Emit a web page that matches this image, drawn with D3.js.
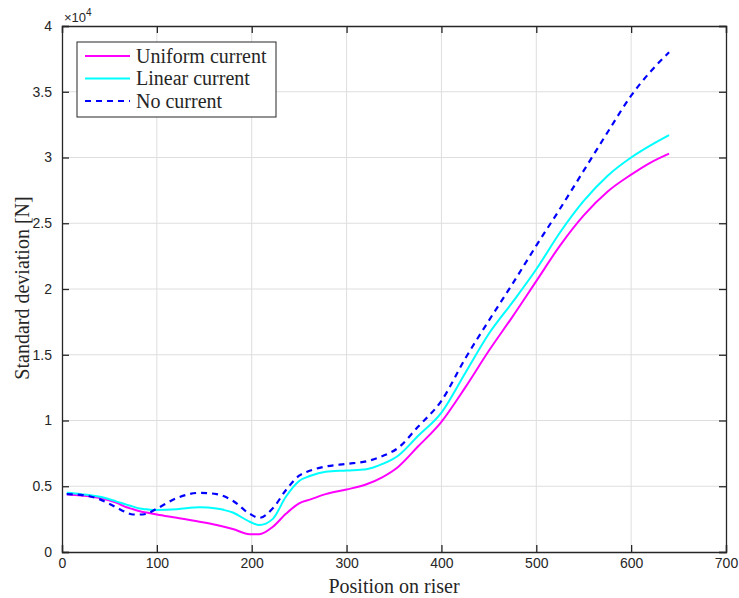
<!DOCTYPE html>
<html>
<head>
<meta charset="utf-8">
<script src="https://cdn.jsdelivr.net/npm/d3@7"></script>
<style>
  body { margin: 0; background: #fff; }
  .tick text { font-family: "Liberation Sans", Arial, sans-serif; font-size: 14px; fill: #262626; }
  .lbl { font-family: "Liberation Serif", "Times New Roman", serif; font-size: 20px; fill: #262626; }
</style>
</head>
<body>
<div class="chart"></div>
<script>
var w = 739;
var h = 598;
var paddingTop = 26;
var paddingBottom = 46;
var paddingLeft = 62;
var paddingRight = 13;

// position on riser (shared by the three series)
var position = [5, 20, 40, 57, 68, 75, 82, 89, 100, 121, 145, 163, 180, 198, 208, 222, 236, 250,
                262, 278, 300, 321, 338, 354, 375, 400, 425, 450, 475, 500, 525, 550, 575, 600, 620, 640];

// standard deviation [N]
var uniformCurrent = [4400, 4300, 4100, 3750, 3400, 3250, 3100, 3000, 2850, 2600, 2300, 2050, 1750, 1350, 1350, 1900, 2900, 3700,
                      4000, 4400, 4750, 5150, 5700, 6450, 8000, 9900, 12500, 15300, 17900, 20600, 23300, 25600, 27400, 28700, 29600, 30300];
var linearCurrent = [4500, 4400, 4200, 3850, 3600, 3450, 3300, 3250, 3200, 3250, 3400, 3300, 3000, 2300, 2050, 2500, 4200, 5400,
                     5800, 6100, 6200, 6300, 6700, 7300, 8800, 10600, 13600, 16600, 19000, 21500, 24300, 26700, 28600, 30000, 30900, 31700];
var noCurrent = [4400, 4350, 4000, 3400, 3000, 2850, 2850, 2900, 3300, 4100, 4500, 4400, 3900, 2900, 2600, 3300, 4700, 5800,
                 6200, 6500, 6700, 6900, 7300, 7900, 9500, 11500, 14700, 17600, 20400, 23300, 26100, 29000, 31900, 34700, 36500, 38000];

var seriesNames = ["Uniform current", "Linear current", "No current"];
var seriesColors = ["#ff00ff", "#00ffff", "#0000ff"];
var seriesDash = [null, null, "6,5"];
var seriesValues = [uniformCurrent, linearCurrent, noCurrent];

var xTicks = [0, 100, 200, 300, 400, 500, 600, 700];
var yTicks = [0, 5000, 10000, 15000, 20000, 25000, 30000, 35000, 40000];

var xScale = d3.scaleLinear().domain([0, 700]).range([paddingLeft, w - paddingRight]);
var yScale = d3.scaleLinear().domain([0, 40000]).range([h - paddingBottom, paddingTop]);

var svg = d3.select(".chart").append("svg")
            .attr("width", w)
            .attr("height", h);

// Gridlines
svg.selectAll(".xGrid")
   .data(xTicks.slice(1, -1))
   .enter()
   .append("line")
   .attr("x1", function(d) { return xScale(d); })
   .attr("x2", function(d) { return xScale(d); })
   .attr("y1", paddingTop)
   .attr("y2", h - paddingBottom)
   .style("stroke", "#dedede")
   .style("stroke-width", 1);

svg.selectAll(".yGrid")
   .data(yTicks.slice(1, -1))
   .enter()
   .append("line")
   .attr("x1", paddingLeft)
   .attr("x2", w - paddingRight)
   .attr("y1", function(d) { return yScale(d); })
   .attr("y2", function(d) { return yScale(d); })
   .style("stroke", "#dedede")
   .style("stroke-width", 1);

// Data lines
var line = d3.line()
             .x(function(d) { return xScale(d[0]); })
             .y(function(d) { return yScale(d[1]); })
             .curve(d3.curveMonotoneX);

seriesValues.forEach(function(vals, i) {
  var data = position.map(function(p, j) { return [p, vals[j]]; });
  svg.append("path")
     .datum(data)
     .attr("d", line)
     .style("fill", "none")
     .style("stroke", seriesColors[i])
     .style("stroke-width", i == 2 ? 2.2 : 2)
     .style("stroke-dasharray", seriesDash[i]);
});

// Axes (ticks inside, box)
var tickFmt = function(d) { return d / 10000; };

var xAxis = d3.axisBottom(xScale).tickValues(xTicks).tickSize(-7).tickPadding(6);
var yAxis = d3.axisLeft(yScale).tickValues(yTicks).tickSize(-7).tickPadding(10).tickFormat(tickFmt);

var gx = svg.append("g")
   .attr("transform", "translate(0," + (h - paddingBottom) + ")")
   .call(xAxis);
var gy = svg.append("g")
   .attr("transform", "translate(" + paddingLeft + ",0)")
   .call(yAxis);
var gxt = svg.append("g")
   .attr("transform", "translate(0," + paddingTop + ")")
   .call(d3.axisTop(xScale).tickValues(xTicks).tickSize(-7).tickFormat(""));
var gyr = svg.append("g")
   .attr("transform", "translate(" + (w - paddingRight) + ",0)")
   .call(d3.axisRight(yScale).tickValues(yTicks).tickSize(-7).tickFormat(""));

[gx, gy, gxt, gyr].forEach(function(g) {
  g.select(".domain").style("stroke", "#262626").style("stroke-width", 1.3);
  g.selectAll(".tick line").style("stroke", "#262626").style("stroke-width", 1.3);
});

// exponent label
var expo = svg.append("text")
   .attr("x", paddingLeft + 2)
   .attr("y", paddingTop - 4)
   .style("font-family", "Liberation Sans, Arial, sans-serif")
   .style("font-size", "13px")
   .style("fill", "#262626");
expo.append("tspan").text("\u00d710");
expo.append("tspan").attr("dy", -6).style("font-size", "10px").text("4");

// axis labels
svg.append("text")
   .attr("class", "lbl")
   .attr("text-anchor", "middle")
   .attr("x", 394)
   .attr("y", 593)
   .text("Position on riser");

svg.append("text")
   .attr("class", "lbl")
   .attr("text-anchor", "middle")
   .attr("transform", "translate(29,288) rotate(-90)")
   .text("Standard deviation [N]");

// Legend
var legend = svg.append("g").attr("transform", "translate(77,42)");
legend.append("rect")
      .attr("width", 199)
      .attr("height", 75)
      .style("fill", "#fff")
      .style("stroke", "#262626")
      .style("stroke-width", 1);

seriesNames.forEach(function(name, i) {
  var yy = 14 + i * 22.5;
  legend.append("line")
        .attr("x1", 8).attr("x2", 53)
        .attr("y1", yy).attr("y2", yy)
        .style("stroke", seriesColors[i])
        .style("stroke-width", 2)
        .style("stroke-dasharray", seriesDash[i]);
  legend.append("text")
        .attr("class", "lbl")
        .attr("x", 59)
        .attr("y", yy + 6.5)
        .text(name);
});
</script>
</body>
</html>
